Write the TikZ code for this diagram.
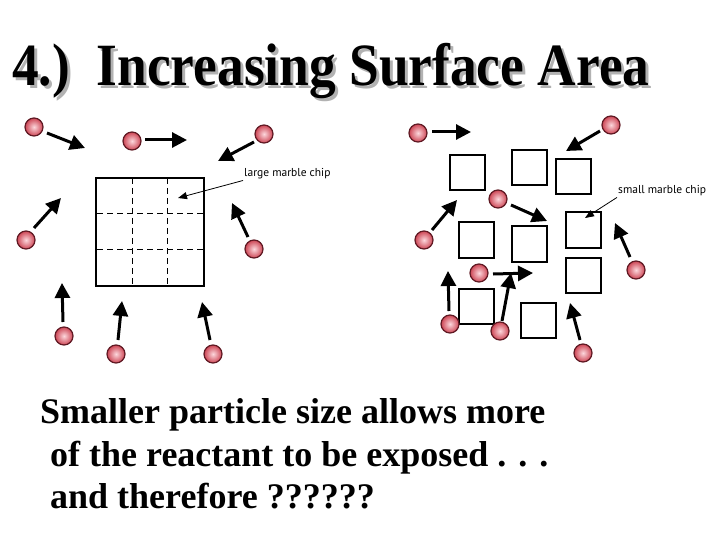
\documentclass[tikz,border=0pt]{standalone}
\usepackage{fontspec}
\setmainfont{Liberation Serif}
\newfontfamily\titlefont[FakeStretch=0.89]{Liberation Serif}
\newfontfamily\chipfont{PT Sans}
\usetikzlibrary{arrows.meta,positioning}
\tikzset{
    %Define standard arrow tip
    >={Triangle[length=15pt,width=15pt]},
    %Define style for marbles
    marble/.style={
           circle,
           draw={rgb,255:red,95;green,25;blue,35}, line width=1.2pt,
           minimum size=18pt,
           inner sep=0pt,
           inner color={rgb,255:red,252;green,215;blue,220},
           outer color={rgb,255:red,205;green,70;blue,85}},
    %Define style for chips
    chip/.style={
           rectangle,
           draw=black, line width=2pt,
           minimum size=35pt,
           inner sep=0pt},
    bigchip/.style={
           chip,
           minimum size=108pt},
    grid/.style={
           dashed, line width=0.9pt,
           dash pattern=on 6pt off 4pt},
    chiplabel/.style={
           font=\chipfont\fontsize{11.5}{13}\selectfont,
           anchor=west, inner sep=1pt},
    titletext/.style={
           anchor=base west, inner sep=0pt,
           font=\titlefont\bfseries\fontsize{60}{60}\selectfont},
    % Define arrow styles
    push/.style={
           ->,
           line width=3pt},
    leader/.style={
           -{Triangle[length=9pt,width=7pt]},
           line width=0.8pt},
    bigtext/.style={
           anchor=base west, inner sep=0pt,
           font=\bfseries\fontsize{36}{40}\selectfont}
}
\begin{document}
\begin{tikzpicture}[x=1pt,y=-1pt]
\useasboundingbox (0,0) rectangle (720,540);

 %title
\node[titletext, text=black!30] (shadow) at (15,89) {4.)\ \ Increasing Surface Area};
\node[titletext] (title) at (12,86) {4.)\ \ Increasing Surface Area};

 %large chip
\node[bigchip] (big) at (150,232) {};
\foreach \t in {132,167}
    \draw[grid] (\t,178) -- (\t,286);
\foreach \t in {213,249}
    \draw[grid] (97,\t) -- (203,\t);

 %small chips
\foreach \n/\x/\y in {s1/467/173, s2/529/168, s3/573/177, s4/476/240, s5/529/244,
                      s6/583/230, s7/583/275, s8/476/306, s9/538/320}
    \node[chip] (\n) at (\x,\y) {};

 %marbles
\foreach \n/\x/\y in {m1/34/127, m2/132/141, m3/264/134, m4/26/240, m5/254/249,
                      m6/64/336, m7/116/354, m8/213/354,
                      n1/418/133, n2/611/125, n3/498/199, n4/424/240, n5/636/270,
                      n6/479/273, n7/450/324, n8/500/331, n9/583/353}
    \node[marble] (\n) at (\x,\y) {};

 %arrows
\foreach \n/\sx/\sy/\ex/\ey in {a1/47/133/85/148, a2/145/140/187/140, a3/254/142/218/161,
                                a4/34/228/61/198, a5/248/237/232/203, a6/63/322/62/283,
                                a7/118/340/122/301, a8/210/340/202/302,
                                b1/432/132/471/132, b2/600/131/566/151, b3/511/205/547/221,
                                b4/432/230/457/200, b5/630/257/615/223, b6/493/274/533/273,
                                b7/449/311/448/271, b8/502/321/511/273, b9/580/340/570/303}
 {
    \coordinate (\n-s) at (\sx,\sy);
    \coordinate (\n-e) at (\ex,\ey);
    \draw[push] (\n-s) -- (\n-e);
 }

 %labels
\node[chiplabel] (lbig) at (243,174) {large marble chip};
\coordinate (tbig) at (178,198);
\draw[leader] (lbig.south west) -- (tbig);

\node[chiplabel] (lsmall) at (617,191) {small marble chip};
\coordinate (tsmall) at (585,218);
\draw[leader] (lsmall.south west) -- (tsmall);

 %text
\node[bigtext] (line1) at (40,423) {Smaller particle size allows more};
\node[bigtext] (line2) at (50,466) {of the reactant to be exposed . . .};
\node[bigtext] (line3) at (50,508) {and therefore ??????};

\end{tikzpicture}
\end{document}
